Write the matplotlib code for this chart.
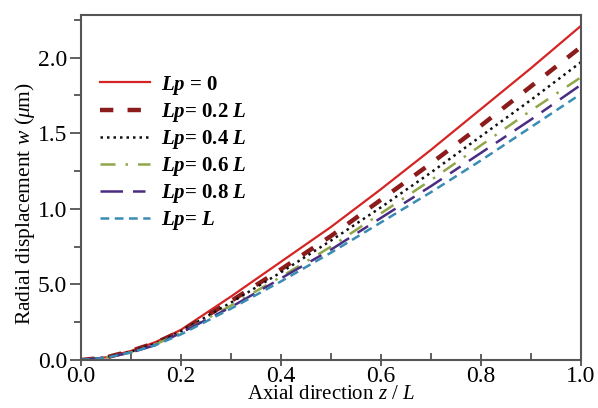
import matplotlib
matplotlib.use("Agg")
import matplotlib.pyplot as plt

# values
z = [0.0, 0.05, 0.1, 0.15, 0.2, 0.3, 0.4, 0.5, 0.6, 0.7, 0.8, 0.9, 1.0]
w_lp0 = [0, 0.018, 0.06, 0.12, 0.20, 0.42, 0.65, 0.88, 1.13, 1.39, 1.66, 1.93, 2.21]
w_lp02 = [0, 0.017, 0.06, 0.115, 0.19, 0.39, 0.60, 0.82, 1.06, 1.30, 1.55, 1.81, 2.07]
w_lp04 = [0, 0.017, 0.055, 0.11, 0.19, 0.38, 0.58, 0.79, 1.01, 1.24, 1.48, 1.72, 1.97]
w_lp06 = [0, 0.016, 0.05, 0.105, 0.18, 0.36, 0.55, 0.75, 0.97, 1.19, 1.42, 1.65, 1.87]
w_lp08 = [0, 0.016, 0.05, 0.10, 0.18, 0.35, 0.54, 0.73, 0.94, 1.15, 1.37, 1.59, 1.82]
w_lp1 = [0, 0.015, 0.05, 0.10, 0.17, 0.34, 0.52, 0.71, 0.91, 1.11, 1.32, 1.54, 1.76]

labels = [r"$\mathbf{Lp}$ = 0", r"$\mathbf{Lp}$= 0.2 $\mathbf{L}$",
          r"$\mathbf{Lp}$= 0.4 $\mathbf{L}$", r"$\mathbf{Lp}$= 0.6 $\mathbf{L}$",
          r"$\mathbf{Lp}$= 0.8 $\mathbf{L}$", r"$\mathbf{Lp}$= $\mathbf{L}$"]
yticks = [0.0, 0.5, 1.0, 1.5, 2.0]
ytick_labels = ["0.0", "5.0", "1.0", "1.5", "2.0"]
xticks = [0.0, 0.2, 0.4, 0.6, 0.8, 1.0]

plt.rcParams["font.family"] = "Liberation Serif"
plt.rcParams["mathtext.fontset"] = "custom"
plt.rcParams["mathtext.it"] = "Liberation Serif:italic"
plt.rcParams["mathtext.rm"] = "Liberation Serif"
plt.rcParams["mathtext.bf"] = "Liberation Serif:bold:italic"

fig = plt.figure(figsize=(5.98, 4.08), dpi=100)
ax = fig.add_axes([0.1355, 0.1176, 0.836, 0.845])

ax.plot(z, w_lp0, color="#d42424", lw=1.6, label=labels[0])
ax.plot(z, w_lp02, color="#8c1c1c", lw=3.2, dashes=(3, 3.2), label=labels[1])
ax.plot(z, w_lp04, color="#111111", lw=1.8, dashes=(1, 1.6), label=labels[2])
ax.plot(z, w_lp06, color="#8fa64a", lw=1.8, dashes=(6, 4, 1, 4), label=labels[3])
ax.plot(z, w_lp08, color="#4a2c82", lw=1.8, dashes=(9, 4, 5, 4), label=labels[4])
ax.plot(z, w_lp1, color="#3a8cb4", lw=1.8, dashes=(3.5, 2.2), label=labels[5])

ax.set_xlim(0, 1.0)
ax.set_ylim(0, 2.28)
ax.set_xticks(xticks)
ax.set_xticklabels(["%.1f" % t for t in xticks])
ax.set_xticks([0.1, 0.3, 0.5, 0.7, 0.9], minor=True)
ax.set_yticks(yticks)
ax.set_yticklabels(ytick_labels)
ax.set_yticks([0.25, 0.75, 1.25, 1.75, 2.25], minor=True)

ax.tick_params(axis="both", labelsize=17, color="#444444", width=1.2)
ax.tick_params(axis="x", which="major", direction="inout", length=8, pad=0)
ax.tick_params(axis="x", which="minor", direction="in", length=5, width=1.2, color="#444444")
ax.tick_params(axis="y", which="major", direction="out", length=8, pad=2)
ax.tick_params(axis="y", which="minor", direction="out", length=5, width=1.2, color="#444444")

for sp in ax.spines.values():
    sp.set_color("#555555")
    sp.set_linewidth(1.5)

ax.set_xlabel(r"Axial direction $z$ / $L$", fontsize=15, labelpad=-1)
ax.set_ylabel(r"Radial displacement $w$ ($\mu$m)", fontsize=15.5)
ax.yaxis.set_label_coords(-0.088, 0.455)

ax.legend(loc="upper left", bbox_to_anchor=(0.0, 0.885), frameon=False,
          prop={"family": "Liberation Serif", "weight": "bold", "size": 15},
          handlelength=2.4, labelspacing=0.2, handletextpad=0.55)

fig.savefig("out.png", dpi=100)
